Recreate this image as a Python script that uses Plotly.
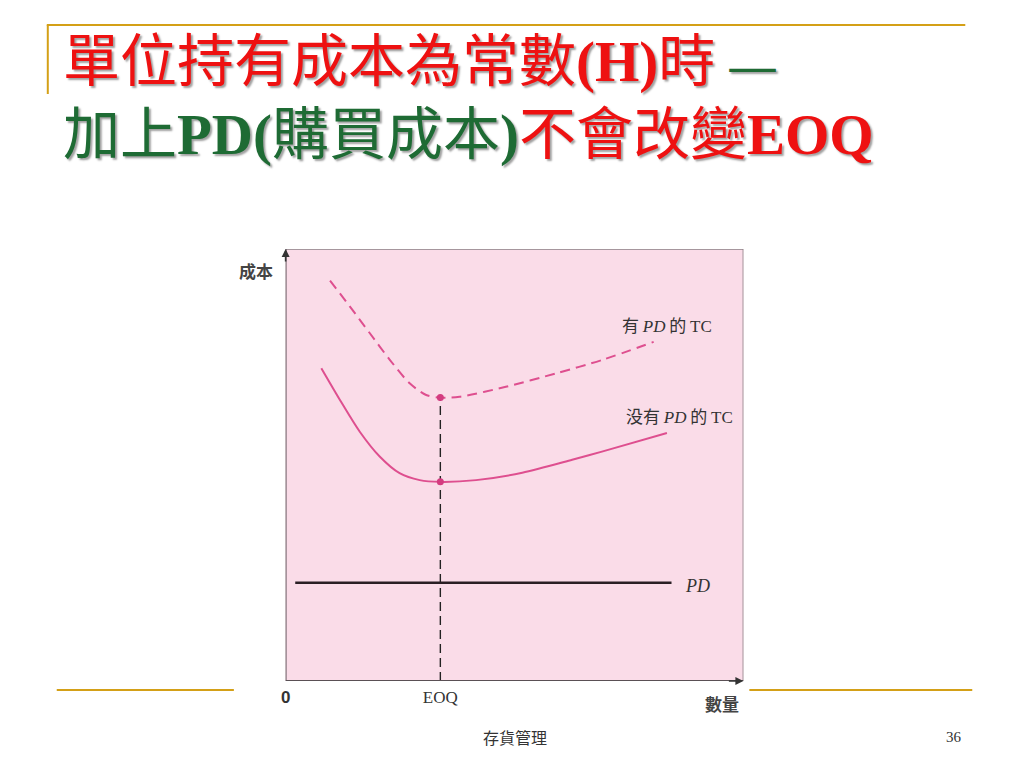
import plotly.graph_objects as go

# ---- data (x = quantity, y = cost, both on a 0-100 scale) ----
tc_x = [7.8, 11.9, 16.2, 20.6, 24.9, 29.3, 33.8, 41.6, 51.7, 62.6, 69.1, 83.3]
tc_y = [72.4, 65.0, 57.7, 51.9, 48.1, 46.5, 46.1, 46.5, 48.2, 51.2, 53.1, 57.4]

tcpd_x = [9.7, 14.1, 18.4, 22.8, 27.1, 30.7, 33.8, 38.0, 48.1, 59.0, 69.1, 80.4]
tcpd_y = [92.7, 86.6, 80.5, 74.3, 68.9, 66.2, 65.6, 65.8, 68.1, 71.2, 74.3, 78.5]

pd_x = [2.1, 84.3]
pd_y = [22.75, 22.75]

eoq = 33.8
eoq_tc = 46.1
eoq_tcpd = 65.6

tick_vals = [0, eoq]
tick_text = ["<span style='font-family:Liberation Sans'><b>0</b></span>", "EOQ"]

PINK = "#DE4F8F"
RED = "#EE1111"
GREEN = "#1E6B34"
GOLD = "#D4A017"

fig = go.Figure()

# vertical EOQ guide
fig.add_trace(go.Scatter(x=[eoq, eoq], y=[0, eoq_tcpd], mode="lines",
                         line=dict(color="#222222", width=1.4, dash="9px,5px"),
                         hoverinfo="skip", showlegend=False))
# PD line
fig.add_trace(go.Scatter(x=pd_x, y=pd_y, mode="lines",
                         line=dict(color="#2a1f24", width=2.6),
                         showlegend=False))
# TC without PD
fig.add_trace(go.Scatter(x=tc_x, y=tc_y, mode="lines",
                         line=dict(color=PINK, width=2, shape="spline", smoothing=0.8),
                         showlegend=False))
# TC with PD
fig.add_trace(go.Scatter(x=tcpd_x, y=tcpd_y, mode="lines",
                         line=dict(color=PINK, width=2, dash="10px,6px", shape="spline", smoothing=0.8),
                         showlegend=False))
# minima dots
fig.add_trace(go.Scatter(x=[eoq, eoq], y=[eoq_tc, eoq_tcpd], mode="markers",
                         marker=dict(color="#D43C80", size=7),
                         showlegend=False))

x0, x1 = 282 / 1024, 742 / 1024
y0, y1 = 1 - 681 / 768, 1 - 249 / 768

fig.update_layout(
    width=1024, height=768,
    margin=dict(l=0, r=0, t=0, b=0),
    paper_bgcolor="white",
    plot_bgcolor="#FADCE8",
    xaxis=dict(domain=[x0, x1], range=[0, 100], showgrid=False, zeroline=False,
               showline=False, tickvals=tick_vals, ticktext=tick_text, ticks="",
               ticklabelstandoff=4,
               tickfont=dict(family="Liberation Serif", size=17, color="#333333"),
               fixedrange=True),
    yaxis=dict(domain=[y0, y1], range=[0, 100], showgrid=False, zeroline=False,
               showline=False, showticklabels=False, ticks="", fixedrange=True),
    showlegend=False,
)

shapes = []
# top and right border (grey)
shapes.append(dict(type="line", xref="x", yref="y", x0=0, x1=100, y0=100, y1=100,
                   line=dict(color="#8a7f85", width=1.5)))
shapes.append(dict(type="line", xref="x", yref="y", x0=100, x1=100, y0=0, y1=100,
                   line=dict(color="#8a7f85", width=1.5)))
# axes
shapes.append(dict(type="line", xref="x", yref="y", x0=0, x1=0, y0=0, y1=100,
                   line=dict(color="#5a5055", width=1.8)))
shapes.append(dict(type="line", xref="x", yref="y", x0=0, x1=100, y0=0, y1=0,
                   line=dict(color="#5a5055", width=1.8)))

# slide decorations (gold rules)
def hline(xa, xb, yp, w=2):
    return dict(type="line", xref="paper", yref="paper",
                x0=xa / 1024, x1=xb / 1024, y0=1 - yp / 768, y1=1 - yp / 768,
                line=dict(color=GOLD, width=w))

shapes.append(hline(42, 965, 25, 2))
shapes.append(dict(type="line", xref="paper", yref="paper",
                   x0=43 / 1024, x1=43 / 1024, y0=1 - 25 / 768, y1=1 - 94 / 768,
                   line=dict(color=GOLD, width=2)))
shapes.append(hline(52, 230, 690, 2))
shapes.append(hline(748, 972, 690, 2))
fig.update_layout(shapes=shapes)

ann = []
# axis arrows
ann.append(dict(x=0, y=100, xref="x", yref="y", ax=0, ay=14,
                showarrow=True, arrowhead=2, arrowsize=1, arrowwidth=1.6, arrowcolor="#333",
                text=""))
ann.append(dict(x=100, y=0, xref="x", yref="y", ax=-16, ay=0,
                showarrow=True, arrowhead=2, arrowsize=1, arrowwidth=1.6, arrowcolor="#333",
                text=""))
# axis titles
ann.append(dict(x=252 / 1024, y=1 - 271 / 768, xref="paper", yref="paper", showarrow=False,
                xanchor="center", yanchor="middle",
                text="<b>成本</b>", font=dict(family="Noto Sans CJK TC", size=17, color="#444444")))
ann.append(dict(x=721 / 1024, y=1 - 703 / 768, xref="paper", yref="paper", showarrow=False,
                xanchor="center", yanchor="middle",
                text="<b>數量</b>", font=dict(family="Noto Sans CJK TC", size=17, color="#444444")))
# curve labels
ann.append(dict(x=73.0, y=82.6, xref="x", yref="y", xanchor="left", yanchor="middle", showarrow=False,
                text="有 <span style='font-family:Liberation Serif'><i>PD</i></span> 的 <span style='font-family:Liberation Serif'>TC</span>",
                font=dict(family="Noto Sans CJK TC", size=17, color="#333333")))
ann.append(dict(x=74.0, y=61.5, xref="x", yref="y", xanchor="left", yanchor="middle", showarrow=False,
                text="没有 <span style='font-family:Liberation Serif'><i>PD</i></span> 的 <span style='font-family:Liberation Serif'>TC</span>",
                font=dict(family="Noto Sans CJK TC", size=17, color="#333333")))
ann.append(dict(x=86.8, y=22.0, xref="x", yref="y", xanchor="left", yanchor="middle", showarrow=False,
                text="<i>PD</i>",
                font=dict(family="Liberation Serif", size=18, color="#333333")))

# slide title
title_font = dict(family="Liberation Serif, Noto Sans CJK TC", size=57, color=RED,
                  shadow="2px 2px 2px #a0a0a0")
ann.append(dict(x=56 / 1024, y=1 - 62 / 768, xref="paper", yref="paper", xanchor="left",
                yanchor="middle", showarrow=False, font=title_font,
                text="單位持有成本為常數<b>(H)</b>時 <span style='color:%s;font-size:46px'><b>—</b></span>" % GREEN))
ann.append(dict(x=56 / 1024, y=1 - 135 / 768, xref="paper", yref="paper", xanchor="left",
                yanchor="middle", showarrow=False, font=title_font,
                text=("<span style='color:%s'>加上<b>PD(</b>購買成本<b>)</b></span>" % GREEN)
                     + "不會改變<b>EOQ</b>"))
# footer
ann.append(dict(x=512 / 1024, y=1 - 737 / 768, xref="paper", yref="paper", showarrow=False,
                xanchor="center", yanchor="middle",
                text="存貨管理", font=dict(family="Noto Sans CJK TC", size=16, color="#333333")))
ann.append(dict(x=954 / 1024, y=1 - 737 / 768, xref="paper", yref="paper", showarrow=False,
                xanchor="center", yanchor="middle",
                text="36", font=dict(family="Liberation Serif", size=15, color="#333333")))

fig.update_layout(annotations=ann)

fig.write_html("out.html", config={"displayModeBar": False},
               post_script="document.body.style.margin='0';document.body.style.overflow='hidden';")
